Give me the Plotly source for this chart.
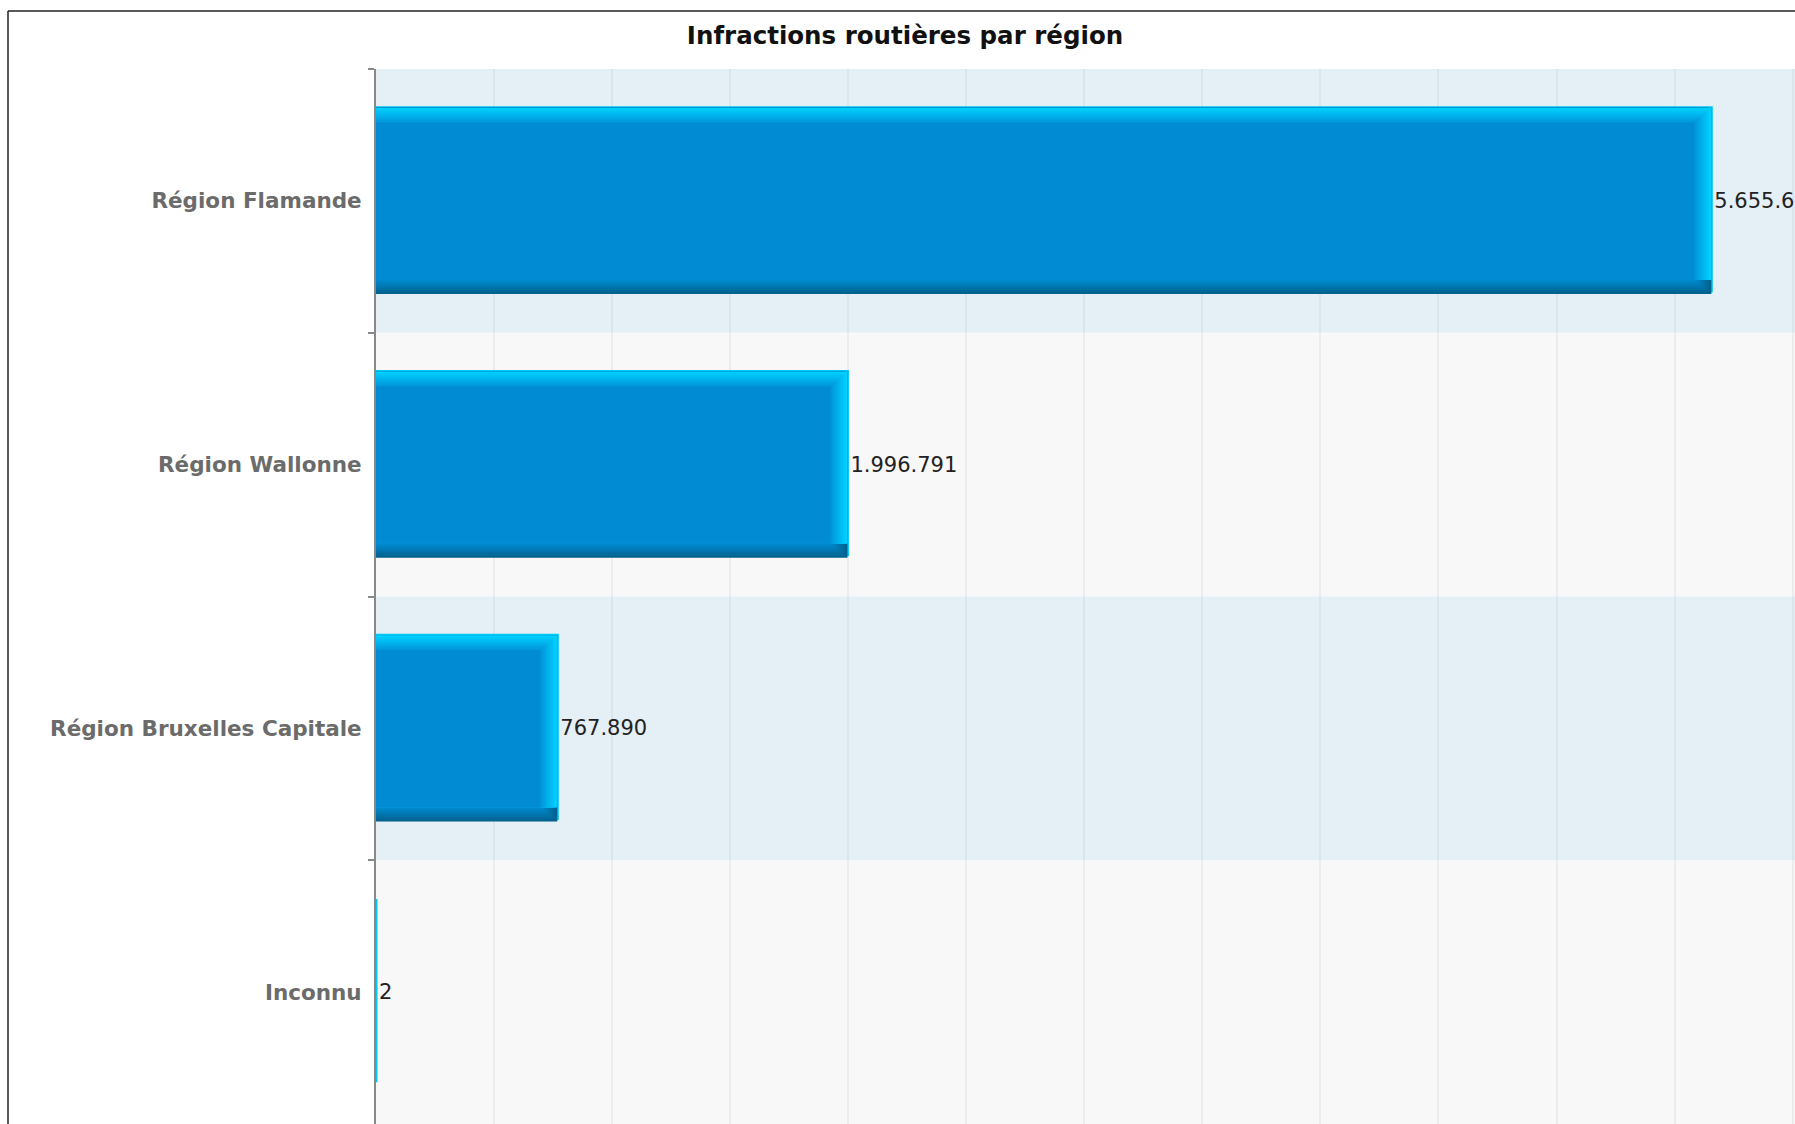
import plotly.graph_objects as go
import numpy as np

# ---------------- data ----------------
categories = ["Région Flamande", "Région Wallonne", "Région Bruxelles Capitale", "Inconnu"]
values = [5655600, 1996791, 767890, 2]
title_text = "Infractions routières par région"

# ---------------- layout constants ----------------
W, H = 1795, 1124
ML, MT = 376, 69
PW, PH = W - ML, H - MT
XMAX = 6010000
n = len(categories)
upp = XMAX / PW          # data units per pixel (x)
unit_px = PH / n         # pixels per category
HALF = 0.353             # half bar thickness (category units)
FONT = "DejaVu Sans"

vals = np.array(values, dtype=float)
labels = [f"{v:,}".replace(",", ".") for v in values]


def mix(c1, c2, t):
    a = [int(c1[i:i + 2], 16) for i in (1, 3, 5)]
    b = [int(c2[i:i + 2], 16) for i in (1, 3, 5)]
    return "#" + "".join(f"{round(a[j] + (b[j] - a[j]) * t):02x}" for j in range(3))


MAIN = "#008bd2"
# bevel layers: (top inset px, bottom inset px, right inset px, colour, outline width)
layers = [(0, 3, 0, "#00c8f8", 3)]
BOT = 14
for k in range(0, BOT, 2):                       # dark bottom edge
    layers.append((0, k, k * 1.2, mix("#00638f", "#0088cc", k / (BOT - 2)), 0))
BEV = 17
for r in range(0, BEV, 2):                       # bright top / right edge
    layers.append((r * 15 / BEV, BOT, r, mix("#00d0ff", "#0094d8", r / (BEV - 1)), 0))
layers.append((15, BOT, BEV, MAIN, 0))           # face

fig = go.Figure()
for top, bot, rin, col, lw in layers:
    off = -HALF + top / unit_px
    wid = 2 * HALF - (top + bot) / unit_px
    xv = np.clip(vals - rin * upp, 0, None)
    fig.add_trace(go.Bar(
        x=xv, y=categories, orientation="h",
        offset=off, width=wid,
        marker=dict(color=col, line=dict(width=lw, color=col)),
        hoverinfo="skip", showlegend=False,
    ))

# value labels
fig.add_trace(go.Bar(
    x=vals, y=categories, orientation="h",
    offset=-HALF, width=2 * HALF,
    marker=dict(color="rgba(0,0,0,0)", line=dict(width=0)),
    text=labels, textposition="outside", cliponaxis=False, constraintext="none",
    textfont=dict(family=FONT, size=21, color="#222222"),
    hoverinfo="skip", showlegend=False,
))

# alternating background bands
shapes = []
band_cols = ["#e5eff6", "#f8f8f8"]
for i in range(n):
    shapes.append(dict(type="rect", xref="paper", yref="y", x0=0, x1=1,
                       y0=i - 0.5, y1=i + 0.5, fillcolor=band_cols[i % 2],
                       line=dict(width=0), layer="below"))
# outer frame (left & top)
fx = (8 - ML) / PW
fy = (H - 11) / PH
shapes.append(dict(type="line", xref="paper", yref="paper", x0=fx, x1=fx, y0=-0.01, y1=fy,
                   line=dict(color="#222222", width=1.5)))
shapes.append(dict(type="line", xref="paper", yref="paper", x0=fx, x1=1.01, y0=fy, y1=fy,
                   line=dict(color="#222222", width=1.5)))

fig.update_layout(
    width=W, height=H,
    margin=dict(l=ML, r=0, t=MT, b=0, pad=0),
    paper_bgcolor="white", plot_bgcolor="white",
    barmode="overlay",
    showlegend=False,
    title=dict(text=title_text, x=905 / W, xref="container", xanchor="center",
               y=1 - 35.5 / H, yref="container", yanchor="middle",
               font=dict(family=FONT, size=24.5, color="#111111", weight="bold")),
    shapes=shapes,
    xaxis=dict(range=[0, XMAX], dtick=500000, tick0=0, showgrid=True,
               gridcolor="rgba(190,200,212,0.25)", gridwidth=2,
               showticklabels=False, ticks="", zeroline=False, showline=False),
    yaxis=dict(type="category", categoryorder="array", categoryarray=categories,
               range=[n - 0.5, -0.5], tickson="boundaries", ticks="outside",
               ticklen=6, tickwidth=2, tickcolor="#888888",
               showline=True, linecolor="#888888", linewidth=2,
               showgrid=False, zeroline=False, layer="below traces",
               ticklabelstandoff=8,
               tickfont=dict(family=FONT, size=21.5, color="#6b6b6b", weight="bold")),
)

fig.write_html("out.html", config={"displayModeBar": False},
               post_script="document.body.style.margin='0';document.body.style.overflow='hidden';")
